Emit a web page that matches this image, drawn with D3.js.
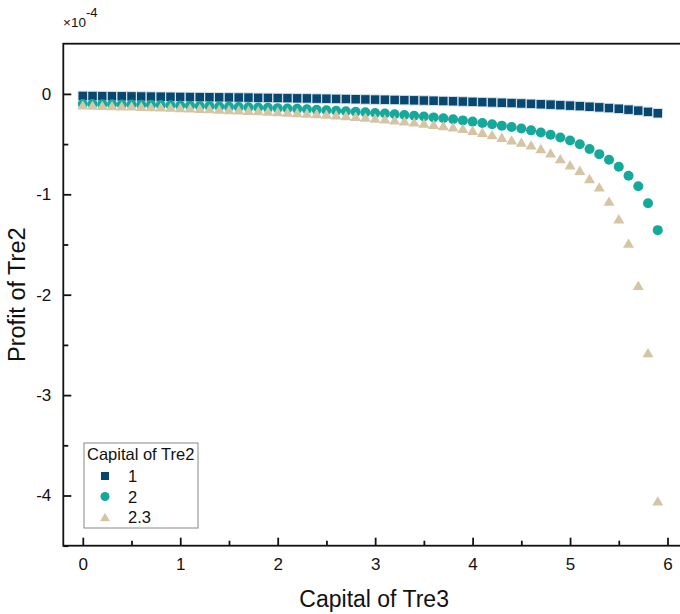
<!DOCTYPE html>
<html>
<head>
<meta charset="utf-8">
<script src="https://cdn.jsdelivr.net/npm/d3@7"></script>
<style>
  html, body { margin: 0; padding: 0; background: #fff; }
  svg { display: block; font-family: "Liberation Sans", Arial, sans-serif; }
</style>
</head>
<body>
<svg id="chart" width="680" height="614"></svg>
<script>
// Capital of Tre3 (x values, step 0.1)
const capitalTre3 = d3.range(60).map(i => +(i * 0.1).toFixed(1));

// Profit of Tre2 (units of 1e-4) for each capital level of Tre2
const profitCap1 = [
  -0.020, -0.021, -0.022, -0.023, -0.024, -0.025, -0.026, -0.027, -0.028, -0.029,
  -0.030, -0.031, -0.032, -0.033, -0.034, -0.035, -0.036, -0.037, -0.039, -0.040,
  -0.041, -0.042, -0.044, -0.045, -0.047, -0.048, -0.050, -0.051, -0.053, -0.055,
  -0.057, -0.058, -0.060, -0.062, -0.064, -0.066, -0.068, -0.071, -0.073, -0.076,
  -0.079, -0.082, -0.085, -0.088, -0.091, -0.095, -0.099, -0.103, -0.107, -0.112,
  -0.117, -0.122, -0.128, -0.134, -0.141, -0.148, -0.157, -0.167, -0.179, -0.193
];
const profitCap2 = [
  -0.100, -0.101, -0.102, -0.103, -0.105, -0.106, -0.108, -0.109, -0.111, -0.113,
  -0.115, -0.117, -0.120, -0.122, -0.125, -0.128, -0.130, -0.133, -0.136, -0.139,
  -0.142, -0.145, -0.149, -0.153, -0.158, -0.163, -0.168, -0.173, -0.178, -0.184,
  -0.190, -0.196, -0.203, -0.210, -0.217, -0.225, -0.234, -0.243, -0.253, -0.264,
  -0.276, -0.289, -0.302, -0.316, -0.330, -0.345, -0.363, -0.384, -0.407, -0.435,
  -0.465, -0.502, -0.548, -0.600, -0.655, -0.725, -0.815, -0.920, -1.090, -1.357
];
const profitCap23 = [
  -0.110, -0.112, -0.114, -0.116, -0.118, -0.120, -0.123, -0.126, -0.129, -0.132,
  -0.135, -0.139, -0.143, -0.147, -0.151, -0.155, -0.159, -0.163, -0.167, -0.171,
  -0.175, -0.180, -0.185, -0.190, -0.195, -0.201, -0.208, -0.215, -0.223, -0.231,
  -0.240, -0.249, -0.258, -0.268, -0.279, -0.290, -0.302, -0.315, -0.329, -0.344,
  -0.362, -0.382, -0.405, -0.432, -0.458, -0.480, -0.508, -0.544, -0.587, -0.644,
  -0.706, -0.760, -0.843, -0.926, -1.068, -1.244, -1.487, -1.907, -2.577, -4.054
];

const seriesNames = ["1", "2", "2.3"];
const seriesColors = ["#084870", "#14a99b", "#d6c5a5"];
const seriesShapes = ["square", "circle", "triangle"];
const seriesValues = [profitCap1, profitCap2, profitCap23];

const xTicks = [0, 1, 2, 3, 4, 5, 6];
const yTicks = [0, -1, -2, -3, -4];

const svg = d3.select("#chart");
const m = { left: 63.3, right: 687, top: 43.7, bottom: 545.7 };

const x = d3.scaleLinear().domain([-0.2, 6.2]).range([m.left, m.right]);
const y = d3.scaleLinear().domain([-4.5, 0.5]).range([m.bottom, m.top]);

// symbol path generators centred on the point
function shapePath(shape, s) {
  if (shape === "square") return `M${-s/2},${-s/2}h${s}v${s}h${-s}Z`;
  if (shape === "circle") return d3.symbol(d3.symbolCircle, Math.PI * (s/2) * (s/2))();
  const h = s * 0.85;
  return `M0,${-h/2}L${s/2},${h/2}L${-s/2},${h/2}Z`;
}

// plain hyphen-minus tick text
const plainNum = d => String(d);

// axes with inward ticks
const xAxis = d3.axisBottom(x).tickValues(xTicks).tickSize(-8).tickPadding(12).tickFormat(plainNum);
const xMinor = d3.axisBottom(x).tickValues(d3.range(0.5, 6.2, 1)).tickSize(-5).tickFormat("");
const yAxis = d3.axisLeft(y).tickValues(yTicks).tickSize(-8).tickPadding(12).tickFormat(plainNum);
const yMinor = d3.axisLeft(y).tickValues(d3.range(-4.5, 0.5, 1)).tickSize(-5).tickFormat("");

function styleAxis(g) {
  g.select(".domain").remove();
  g.selectAll(".tick line").attr("stroke", "#111").attr("stroke-width", 1.8);
  g.selectAll(".tick text").attr("fill", "#111").attr("font-size", 17)
    .attr("font-family", "Liberation Sans, Arial, sans-serif");
}

svg.append("g").attr("transform", `translate(0,${m.bottom})`).call(xMinor).call(styleAxis);
svg.append("g").attr("transform", `translate(0,${m.bottom})`).call(xAxis).call(styleAxis);
svg.append("g").attr("transform", `translate(${m.left},0)`).call(yMinor).call(styleAxis);
svg.append("g").attr("transform", `translate(${m.left},0)`).call(yAxis).call(styleAxis);

// frame
svg.append("rect")
  .attr("x", m.left).attr("y", m.top)
  .attr("width", m.right - m.left).attr("height", m.bottom - m.top)
  .attr("fill", "none").attr("stroke", "#111").attr("stroke-width", 1.8);

// exponent label
const expo = svg.append("text").attr("x", 63).attr("y", 27).attr("font-size", 13.5).attr("fill", "#111");
expo.append("tspan").text("×10");
expo.append("tspan").attr("dy", -10).attr("font-size", 13).text("-4");

// axis titles
svg.append("text").attr("x", (x(-0.2) + x(6.2)) / 2 - 1).attr("y", 607)
  .attr("text-anchor", "middle").attr("font-size", 23).attr("fill", "#111")
  .text("Capital of Tre3");
svg.append("text")
  .attr("transform", `translate(25,${(m.top + m.bottom) / 2}) rotate(-90)`)
  .attr("text-anchor", "middle").attr("font-size", 23.5).attr("fill", "#111")
  .text("Profit of Tre2");

// data points
const plot = svg.append("g");
seriesValues.forEach((vals, si) => {
  const size = si === 0 ? 9.5 : (si === 1 ? 10 : 11);
  plot.append("g").selectAll("path")
    .data(vals.map((v, i) => ({ x: capitalTre3[i], y: v })))
    .join("path")
    .attr("transform", d => `translate(${x(d.x)},${y(d.y)})`)
    .attr("d", shapePath(seriesShapes[si], size))
    .attr("fill", seriesColors[si])
    .attr("stroke", si === 0 ? "rgba(220,232,240,0.9)" : "none")
    .attr("stroke-width", si === 0 ? 1 : 0);
});

// legend
const lg = svg.append("g");
lg.append("rect").attr("x", 84).attr("y", 443).attr("width", 114).attr("height", 85)
  .attr("fill", "#fff").attr("stroke", "#888").attr("stroke-width", 1);
lg.append("text").attr("x", 87).attr("y", 460).attr("font-size", 16.5).attr("fill", "#111")
  .text("Capital of Tre2");
seriesNames.forEach((name, i) => {
  const cy = 476 + i * 20.5;
  lg.append("path").attr("transform", `translate(105,${cy})`)
    .attr("d", shapePath(seriesShapes[i], i === 0 ? 8 : (i === 1 ? 9 : 10)))
    .attr("fill", seriesColors[i]);
  lg.append("text").attr("x", 128).attr("y", cy + 6).attr("font-size", 16.5).attr("fill", "#111")
    .text(name);
});
</script>
</body>
</html>
